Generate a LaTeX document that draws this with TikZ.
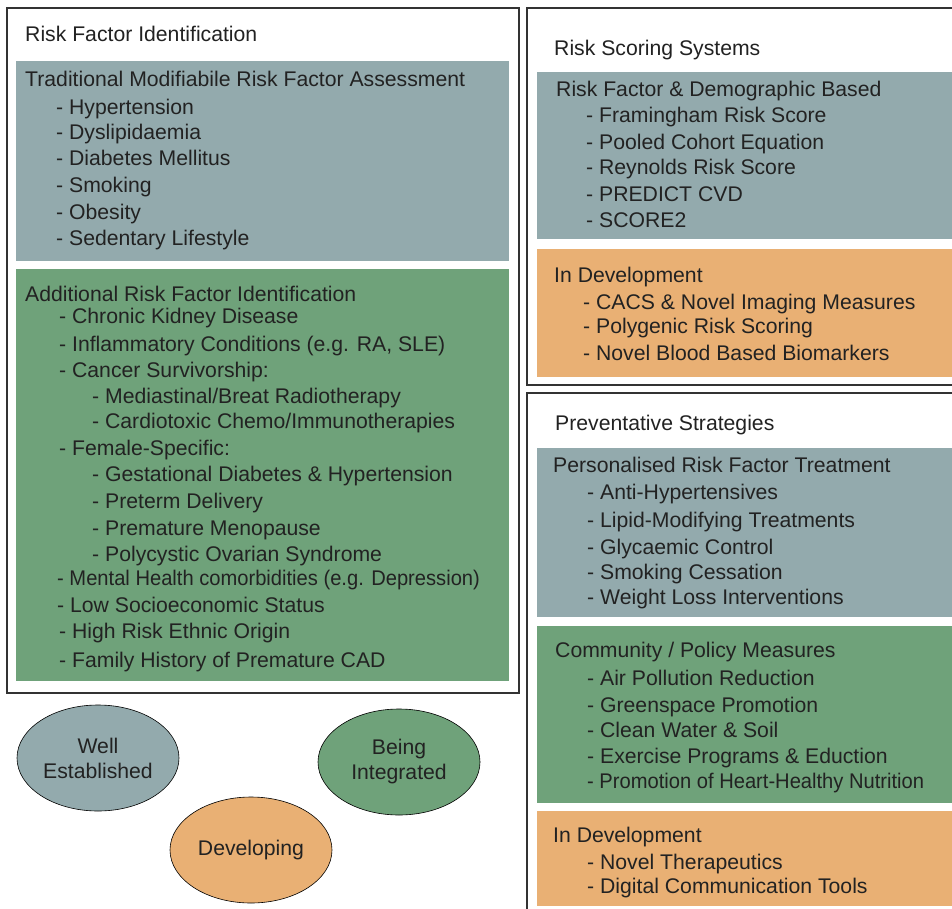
\documentclass[tikz,border=0pt]{standalone}
\usepackage{fontspec}
\usepackage{graphicx}
\setmainfont{Liberation Sans}
\usetikzlibrary{shapes.geometric}
\definecolor{estab}{HTML}{93AAAD}
\definecolor{integ}{HTML}{6FA27A}
\definecolor{devel}{HTML}{E9B074}
\definecolor{ink}{HTML}{222222}
\definecolor{frame}{HTML}{333333}
\newcommand{\narrow}[1]{\scalebox{0.95}[1]{#1}}
\begin{document}
\begin{tikzpicture}[x=1pt,y=-1pt,
  txt/.style={anchor=base west,inner sep=0pt,text=ink,font=\fontsize{21.2}{25}\selectfont},
  panel/.style={draw=frame,line width=1.2pt},
  tag/.style={ellipse,draw=black,line width=0.6pt,minimum width=162pt,minimum height=106pt,
    inner sep=0pt,align=center,text=ink,font=\fontsize{21.2}{25}\selectfont}]
\useasboundingbox (0,0) rectangle (952,909);
\clip (0,0) rectangle (952,909);
\fill[white] (0,0) rectangle (952,909);

% outer panels
\draw[panel] (7,8) rectangle (519,693);
\draw[panel] (527,8) rectangle (970,385);
\draw[panel] (527,393) rectangle (970,930);

% coloured bands
\fill[estab] (16,61) rectangle (509,261);
\fill[integ] (16,269) rectangle (509,681);
\fill[estab] (537,72) rectangle (970,239);
\fill[devel] (537,249) rectangle (970,377);
\fill[estab] (537,448) rectangle (970,617);
\fill[integ] (537,626) rectangle (970,803);
\fill[devel] (537,811) rectangle (970,906);

% Risk factor identification
\node[txt] (rfi) at (25,42) {Risk Factor Identification};
\node[txt] (trad) at (25,87) {Traditional Modifiabile Risk Factor Assessment};
\node[txt] (t1) at (56,115) {- Hypertension};
\node[txt] (t2) at (56,140) {- Dyslipidaemia};
\node[txt] (t3) at (56,166) {- Diabetes Mellitus};
\node[txt] (t4) at (56,193) {- Smoking};
\node[txt] (t5) at (56,220) {- Obesity};
\node[txt] (t6) at (56,246) {- Sedentary Lifestyle};

\node[txt] (addl) at (25,301) {Additional Risk Factor Identification};
\node[txt] (a1) at (59,323) {- Chronic Kidney Disease};
\node[txt] (a2) at (59,351) {- Inflammatory Conditions (e.g. RA, SLE)};
\node[txt] (a3) at (59,377) {- Cancer Survivorship:};
\node[txt] (a3a) at (92,403) {- Mediastinal/Breat Radiotherapy};
\node[txt] (a3b) at (92,428) {- Cardiotoxic Chemo/Immunotherapies};
\node[txt] (a4) at (59,455) {- Female-Specific:};
\node[txt] (a4a) at (92,481) {- Gestational Diabetes \& Hypertension};
\node[txt] (a4b) at (92,508) {- Preterm Delivery};
\node[txt] (a4c) at (92,535) {- Premature Menopause};
\node[txt] (a4d) at (92,561) {- Polycystic Ovarian Syndrome};
\node[txt] (a5) at (57,585) {\narrow{- Mental Health comorbidities (e.g. Depression)}};
\node[txt] (a6) at (57,612) {- Low Socioeconomic Status};
\node[txt] (a7) at (59,638) {- High Risk Ethnic Origin};
\node[txt] (a8) at (59,667) {- Family History of Premature CAD};

% Risk scoring systems
\node[txt] (rss) at (554,56) {Risk Scoring Systems};
\node[txt] (demo) at (556,97) {Risk Factor \& Demographic Based};
\node[txt] (s1) at (586,123) {- Framingham Risk Score};
\node[txt] (s2) at (586,150) {- Pooled Cohort Equation};
\node[txt] (s3) at (586,175) {- Reynolds Risk Score};
\node[txt] (s4) at (586,202) {- PREDICT CVD};
\node[txt] (s5) at (586,228) {- SCORE2};
\node[txt] (sdev) at (554,282) {In Development};
\node[txt] (d1) at (583,309) {- CACS \& Novel Imaging Measures};
\node[txt] (d2) at (583,333) {- Polygenic Risk Scoring};
\node[txt] (d3) at (583,360) {- Novel Blood Based Biomarkers};

% Preventative strategies
\node[txt] (prev) at (555,430) {Preventative Strategies};
\node[txt] (pers) at (553,472) {Personalised Risk Factor Treatment};
\node[txt] (p1) at (587,499) {- Anti-Hypertensives};
\node[txt] (p2) at (587,527) {- Lipid-Modifying Treatments};
\node[txt] (p3) at (587,554) {- Glycaemic Control};
\node[txt] (p4) at (587,579) {- Smoking Cessation};
\node[txt] (p5) at (587,604) {- Weight Loss Interventions};
\node[txt] (comm) at (555,657) {Community / Policy Measures};
\node[txt] (c1) at (587,685) {- Air Pollution Reduction};
\node[txt] (c2) at (587,712) {- Greenspace Promotion};
\node[txt] (c3) at (587,737) {- Clean Water \& Soil};
\node[txt] (c4) at (587,763) {- Exercise Programs \& Eduction};
\node[txt] (c5) at (587,788) {\narrow{- Promotion of Heart-Healthy Nutrition}};
\node[txt] (pdev) at (553,842) {In Development};
\node[txt] (e1) at (587,869) {- Novel Therapeutics};
\node[txt] (e2) at (587,893) {- Digital Communication Tools};

% legend
\node[tag,fill=estab] (kwell) at (98,758) {Well\\Established};
\node[tag,fill=integ] (kbeing) at (399,762) {Being\\Integrated};
\node[tag,fill=devel] (kdev) at (251,850) {Developing};
\end{tikzpicture}
\end{document}
